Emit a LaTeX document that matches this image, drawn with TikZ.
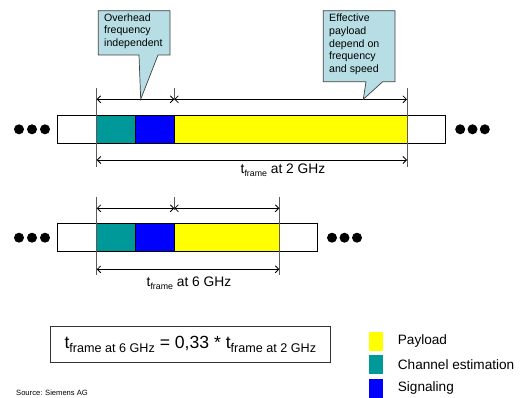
\documentclass[tikz,border=0pt]{standalone}
\usepackage{fontspec}
\setmainfont{Liberation Sans}
\usetikzlibrary{arrows.meta}
\definecolor{tealc}{RGB}{0,153,153}
\definecolor{bluec}{RGB}{0,0,255}
\definecolor{yelc}{RGB}{255,255,0}
\definecolor{callc}{RGB}{183,222,228}
\definecolor{tickc}{RGB}{90,90,90}
\newcommand{\fs}[1]{\fontsize{#1}{#1}\selectfont}
\begin{document}
\begin{tikzpicture}[x=1pt,y=-1pt,
  seg/.style={draw=black,line width=0.8pt,minimum height=28pt,anchor=north west,inner sep=0pt,outer sep=0pt},
  dotn/.style={circle,fill=black,minimum size=10pt,inner sep=0pt},
  tickl/.style={draw=tickc,line width=1pt},
  dim/.style={draw=black,line width=0.8pt,{Straight Barb[length=3.5pt,width=7pt]}-{Straight Barb[length=3.5pt,width=7pt]}},
  callout/.style={draw=black!75,line width=0.7pt,fill=callc},
  ctext/.style={align=left,anchor=north west,inner sep=0pt,font=\fs{10.6},text depth=0pt},
  lbl/.style={inner sep=0pt},
  legsq/.style={fill=#1,minimum width=13.3pt,minimum height=19pt,inner sep=0pt,anchor=north west},
  legtx/.style={anchor=west,inner sep=0pt,font=\fs{13.6}}
]
\useasboundingbox (0,0) rectangle (527,398);

% ---------- top bar (2 GHz) ----------
\node[seg,minimum width=388pt] (o1) at (57.7,115.3) {};
\node[seg,fill=tealc,minimum width=38.6pt] (c1) at (96.7,115.3) {};
\node[seg,fill=bluec,minimum width=39pt] (s1) at (135.3,115.3) {};
\node[seg,fill=yelc,minimum width=232.7pt] (p1) at (174.3,115.3) {};
\node[dotn] (dl1) at (19,129.3) {};
\node[dotn] (dl2) at (32,129.3) {};
\node[dotn] (dl3) at (45,129.3) {};
\node[dotn] (dr1) at (460.2,129.3) {};
\node[dotn] (dr2) at (472.5,129.3) {};
\node[dotn] (dr3) at (484.8,129.3) {};

\coordinate (a1t) at (96.7,88);   \coordinate (a1b) at (96.7,166.7);
\coordinate (b1t) at (174.3,88);  \coordinate (b1b) at (174.3,100.5);
\coordinate (e1t) at (407,88);    \coordinate (e1b) at (407,166.7);
\draw[tickl] (a1t) -- (a1b);
\draw[tickl] (b1t) -- (b1b);
\draw[tickl] (e1t) -- (e1b);
\coordinate (a1u) at (96.7,99.3); \coordinate (b1u) at (174.3,99.3); \coordinate (e1u) at (407,99.3);
\coordinate (a1d) at (96.7,160);  \coordinate (e1d) at (407,160);
\draw[dim] (a1u) -- (b1u);
\draw[dim] (b1u) -- (e1u);
\draw[dim] (a1d) -- (e1d);
\node[lbl,anchor=base west] (l1) at (240.5,173.5) {\fs{13.8}t\raisebox{-3pt}{\fs{8.8}frame} at 2 GHz};

% callouts
\coordinate (tip1) at (140.7,99.3);
\coordinate (tip2) at (363.3,99.3);
\draw[callout] (98.3,10.7) -- (170,10.7) -- (170,55) -- (158,55) -- (tip1) -- (139,55) -- (98.3,55) -- cycle;
\node[ctext] (co1) at (104,13.5) {Overhead\\[2pt]frequency\\[2pt]independent};
\draw[callout] (323.3,10.7) -- (395,10.7) -- (395,81.7) -- (382.7,81.7) -- (tip2) -- (366,81.7) -- (323.3,81.7) -- cycle;
\node[ctext] (co2) at (329,14) {Effective\\[2pt]payload\\[2pt]depend on\\[2pt]frequency\\[2pt]and speed};

% ---------- second bar (6 GHz) ----------
\node[seg,minimum width=259.6pt] (o2) at (57.7,223.3) {};
\node[seg,fill=tealc,minimum width=38.6pt] (c2) at (96.7,223.3) {};
\node[seg,fill=bluec,minimum width=39pt] (s2) at (135.3,223.3) {};
\node[seg,fill=yelc,minimum width=105pt] (p2) at (174.3,223.3) {};
\node[dotn] (dm1) at (19,237.7) {};
\node[dotn] (dm2) at (32,237.7) {};
\node[dotn] (dm3) at (45,237.7) {};
\node[dotn] (dn1) at (332,237.7) {};
\node[dotn] (dn2) at (344.5,237.7) {};
\node[dotn] (dn3) at (357,237.7) {};

\coordinate (a2t) at (96.7,196.7);  \coordinate (a2b) at (96.7,275);
\coordinate (b2t) at (174.3,196.7); \coordinate (b2b) at (174.3,209.5);
\coordinate (e2t) at (279.3,196.7); \coordinate (e2b) at (279.3,275);
\draw[tickl] (a2t) -- (a2b);
\draw[tickl] (b2t) -- (b2b);
\draw[tickl] (e2t) -- (e2b);
\coordinate (a2u) at (96.7,208.3); \coordinate (b2u) at (174.3,208.3); \coordinate (e2u) at (279.3,208.3);
\coordinate (a2d) at (96.7,269.3); \coordinate (e2d) at (279.3,269.3);
\draw[dim] (a2u) -- (b2u);
\draw[dim] (b2u) -- (e2u);
\draw[dim] (a2d) -- (e2d);
\node[lbl,anchor=base] (l2) at (189,286.5) {\fs{13.8}t\raisebox{-3pt}{\fs{8.8}frame} at 6 GHz};

% ---------- formula ----------
\node[draw=black!80,line width=0.9pt,minimum width=280.7pt,minimum height=35.6pt,inner sep=0pt] (fm) at (190.35,344.5)
  {\fs{17.6}t\raisebox{-3.5pt}{\fs{12.6}frame at 6 GHz} = 0,33 * t\raisebox{-3.5pt}{\fs{12.6}frame at 2 GHz}};

% ---------- legend ----------
\node[legsq=yelc] (lg1) at (369,331.7) {};
\node[legsq=tealc] (lg2) at (369,355) {};
\node[legsq=bluec] (lg3) at (369,378.3) {};
\node[legtx] (lt1) at (397.7,341.2) {Payload};
\node[legtx] (lt2) at (397.7,364.5) {Channel estimation};
\node[legtx] (lt3) at (397.7,387.8) {Signaling};

\node[anchor=base west,inner sep=0pt,font=\fs{7.6}] (src) at (16,395.5) {Source: Siemens AG};
\end{tikzpicture}
\end{document}
